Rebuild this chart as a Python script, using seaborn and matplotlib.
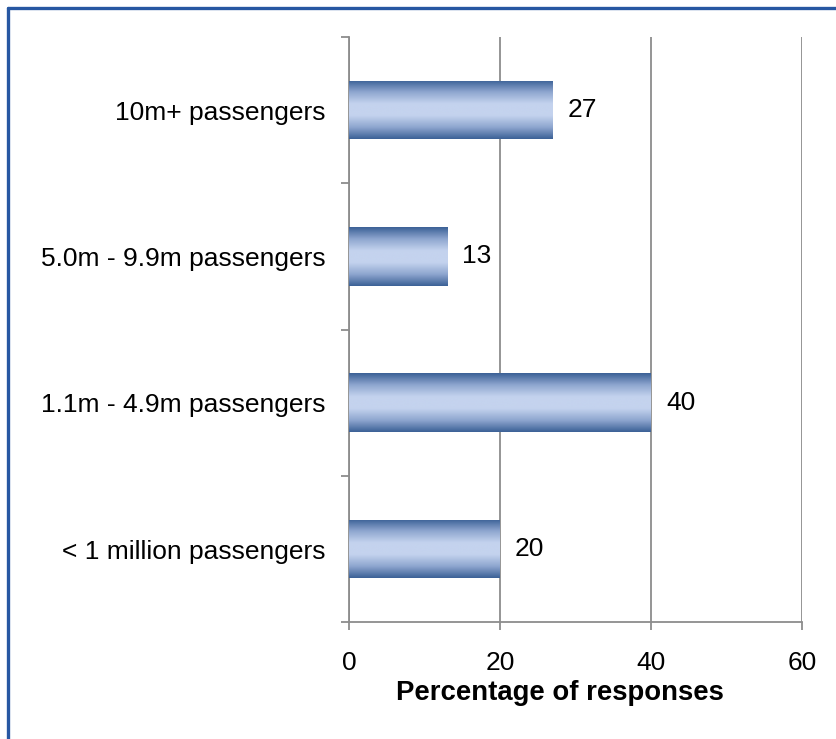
import matplotlib
matplotlib.use("Agg")
import matplotlib.pyplot as plt
import seaborn as sns
import numpy as np
import pandas as pd
from matplotlib.colors import LinearSegmentedColormap
from matplotlib.lines import Line2D

categories = ["10m+ passengers", "5.0m - 9.9m passengers",
              "1.1m - 4.9m passengers", "< 1 million passengers"]
values = [27, 13, 40, 20]
x_ticks = [0, 20, 40, 60]

sns.set_theme(style="white")
plt.rcParams["font.family"] = ["Liberation Sans", "DejaVu Sans"]
plt.rcParams["text.color"] = "black"
plt.rcParams["xtick.color"] = "black"
plt.rcParams["ytick.color"] = "black"
plt.rcParams["axes.labelcolor"] = "black"

df = pd.DataFrame({"category": categories, "value": values})

fig = plt.figure(figsize=(8.37, 7.39), dpi=100)
ax = fig.add_axes([0.417, 0.158, 0.541, 0.792])

sns.barplot(data=df, x="value", y="category", order=categories,
            color="#5b7fb5", width=0.4, ax=ax, zorder=3)

# vertical gradient fill on each bar: dark at the edges, light in the middle
grad_cmap = LinearSegmentedColormap.from_list(
    "bar", ["#3b6096", "#8ea6cf", "#c4d3ee", "#c4d3ee", "#8ea6cf", "#3b6096"])
grad = np.linspace(0, 1, 256).reshape(-1, 1)
for patch in ax.patches:
    x0, y0 = patch.get_x(), patch.get_y()
    w, h = patch.get_width(), patch.get_height()
    im = ax.imshow(grad, cmap=grad_cmap, aspect="auto",
                   extent=[x0, x0 + w, y0 + h, y0], zorder=4,
                   interpolation="bicubic")
    im.set_clip_path(patch)
    patch.set_edgecolor("none")
ax.set_xlim(0, 60)
ax.set_ylim(len(categories) - 0.5, -0.5)

for i, v in enumerate(values):
    ax.text(v + 2.0, i, f"{v}", va="center", ha="left", fontsize=19, color="black")

grid_c = "#8c8c8c"
ax.set_xticks(x_ticks)
ax.xaxis.grid(True, color=grid_c, linewidth=1.3, zorder=0)
ax.set_axisbelow(True)
for s in ["top", "right"]:
    ax.spines[s].set_visible(False)
for s in ["left", "bottom"]:
    ax.spines[s].set_color(grid_c)
    ax.spines[s].set_linewidth(1.3)

# category boundary ticks on the y axis
ax.set_yticks(np.arange(len(categories)))
ax.set_yticklabels(categories, fontsize=19)
ax.set_yticks(np.arange(len(categories) + 1) - 0.5, minor=True)
ax.tick_params(axis="y", which="major", left=False, length=0, pad=17)
ax.tick_params(axis="y", which="minor", left=True, length=6, width=1.3,
               color=grid_c, direction="out")
ax.tick_params(axis="x", which="major", bottom=True, length=6, width=1.3,
               color=grid_c, labelcolor="black", labelsize=19, pad=14.5,
               direction="out")
ax.set_xlabel("Percentage of responses", fontsize=19.8, fontweight="bold",
              labelpad=4)
ax.xaxis.set_label_coords(0.466, -0.098)
ax.set_ylabel("")

# outer frame: top and left edges
frame_c = "#2757a2"
fig.add_artist(Line2D([8.5 / 837, 1.0], [1 - 7.5 / 739, 1 - 7.5 / 739],
                      transform=fig.transFigure, color=frame_c, linewidth=2.4))
fig.add_artist(Line2D([8.5 / 837, 8.5 / 837], [0.0, 1 - 7.5 / 739],
                      transform=fig.transFigure, color=frame_c, linewidth=2.4))

fig.savefig("out.png", dpi=100)
